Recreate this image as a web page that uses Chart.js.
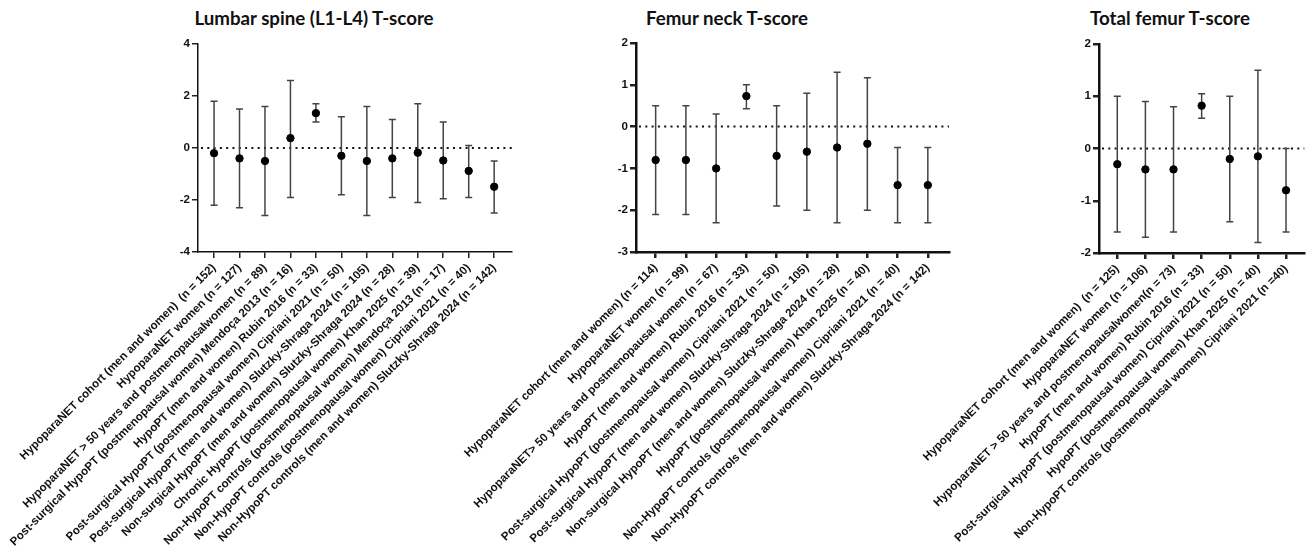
<!DOCTYPE html>
<html><head><meta charset="utf-8">
<script src="https://cdn.jsdelivr.net/npm/chart.js@4.4.1/dist/chart.umd.min.js"></script>
<style>
html,body{margin:0;padding:0;background:#fff;width:1309px;height:549px;overflow:hidden;position:relative;}
canvas{position:absolute;left:0;top:0;}
.t{position:absolute;font-family:Lato,"Open Sans",sans-serif;font-weight:bold;font-size:18.7px;color:#111;transform:translateX(-50%);white-space:nowrap;top:7px;}
</style></head><body>
<div class="t" style="left:314px">Lumbar spine (L1-L4) T-score</div>
<div class="t" style="left:727px">Femur neck T-score</div>
<div class="t" style="left:1170px">Total femur T-score</div>
<canvas id="c1" width="1309" height="549"></canvas>
<canvas id="c2" width="1309" height="549"></canvas>
<canvas id="c3" width="1309" height="549"></canvas>
<script>
const lumbarLabels = [
  "HypoparaNET cohort (men and women)  (n = 152)",
  "HypoparaNET women (n = 127)",
  "HypoparaNET > 50 years and postmenopausalwomen (n = 89)",
  "Post-surgical HypoPT (postmenopausal women) Mendoça 2013 (n = 16)",
  "HypoPT (men and women) Rubin 2016 (n = 33)",
  "Post-surgical HypoPT (postmenopausal women) Cipriani 2021 (n = 50)",
  "Post-surgical HypoPT (men and women) Slutzky-Shraga 2024 (n = 105)",
  "Non-surgical HypoPT (men and women) Slutzky-Shraga 2024 (n = 28)",
  "Chronic HypoPT (postmenopausal women) Khan 2025 (n = 39)",
  "Non-HypoPT controls (postmenopausal women) Mendoça 2013 (n = 17)",
  "Non-HypoPT controls (postmenopausal women) Cipriani 2021 (n = 40)",
  "Non-HypoPT controls (men and women) Slutzky-Shraga 2024 (n = 142)"
];
const lumbarMean = [-0.2, -0.4, -0.5, 0.38, 1.34, -0.3, -0.5, -0.4, -0.18, -0.48, -0.88, -1.49];
const lumbarLow  = [-2.2, -2.3, -2.6, -1.9, 1.0, -1.8, -2.6, -1.9, -2.1, -1.95, -1.9, -2.5];
const lumbarHigh = [1.8, 1.5, 1.6, 2.6, 1.7, 1.2, 1.6, 1.1, 1.7, 1.0, 0.1, -0.5];
const lumbarTicks = [-4, -2, 0, 2, 4];

const neckLabels = [
  "HypoparaNET cohort (men and women) (n = 114)",
  "HypoparaNET women (n = 99)",
  "HypoparaNET> 50 years and postmenopausal women (n = 67)",
  "HypoPT (men and women) Rubin 2016 (n = 33)",
  "Post-surgical HypoPT (postmenopausal women) Cipriani 2021 (n = 50)",
  "Post-surgical HypoPT (men and women) Slutzky-Shraga 2024 (n = 105)",
  "Non-surgical HypoPT (men and women) Slutzky-Shraga 2024 (n = 28)",
  "HypoPT (postmenopausal women) Khan 2025 (n = 40)",
  "Non-HypoPT controls (postmenopausal women) Cipriani 2021 (n = 40)",
  "Non-HypoPT controls (men and women) Slutzky-Shraga 2024 (n = 142)"
];
const neckMean = [-0.8, -0.8, -1.0, 0.73, -0.7, -0.6, -0.5, -0.41, -1.4, -1.4];
const neckLow  = [-2.1, -2.1, -2.3, 0.43, -1.9, -2.0, -2.3, -2.0, -2.3, -2.3];
const neckHigh = [0.5, 0.5, 0.3, 1.0, 0.5, 0.8, 1.3, 1.17, -0.5, -0.5];
const neckTicks = [-3, -2, -1, 0, 1, 2];

const totalLabels = [
  "HypoparaNET cohort (men and women)  (n = 125)",
  "HypoparaNET women (n = 106)",
  "HypoparaNET > 50 years and postmenopausalwomen(n = 73)",
  "HypoPT (men and women) Rubin 2016 (n = 33)",
  "Post-surgical HypoPT (postmenopausal women) Cipriani 2021 (n = 50)",
  "HypoPT (postmenopausal women) Khan 2025 (n = 40)",
  "Non-HypoPT controls (postmenopausal women) Cipriani 2021 (n =40)"
];
const totalMean = [-0.3, -0.4, -0.4, 0.82, -0.2, -0.15, -0.8];
const totalLow  = [-1.6, -1.7, -1.6, 0.58, -1.4, -1.8, -1.6];
const totalHigh = [1.0, 0.9, 0.8, 1.05, 1.0, 1.5, 0.0];
const totalTicks = [-2, -1, 0, 1, 2];

const errPlugin = {
  id: 'errbars',
  beforeDatasetsDraw(chart, args, opts) {
    const ctx = chart.ctx, x = chart.scales.x, y = chart.scales.y, a = chart.chartArea;
    ctx.save();
    ctx.strokeStyle = '#111';
    ctx.lineWidth = 2;
    ctx.setLineDash([2, 4.3]);
    const y0 = y.getPixelForValue(0);
    ctx.beginPath(); ctx.moveTo(a.left + 3, y0); ctx.lineTo(a.right, y0); ctx.stroke();
    ctx.setLineDash([]);
    ctx.strokeStyle = '#444';
    ctx.lineWidth = 1.5;
    opts.low.forEach((lo, i) => {
      const px = x.getPixelForValue(i);
      const pl = y.getPixelForValue(lo), ph = y.getPixelForValue(opts.high[i]);
      ctx.beginPath();
      ctx.moveTo(px, pl); ctx.lineTo(px, ph);
      ctx.moveTo(px - 3.5, pl); ctx.lineTo(px + 3.5, pl);
      ctx.moveTo(px - 3.5, ph); ctx.lineTo(px + 3.5, ph);
      ctx.stroke();
    });
    ctx.restore();
  }
};

function makeChart(id, labels, mean, low, high, yTicks, xMin, xMax, box, axisW) {
  const yAxisW = 30;
  const tickFont = { family: '"Liberation Sans", Arial, sans-serif', weight: 'bold', size: 11.6 };
  new Chart(document.getElementById(id), {
    type: 'scatter',
    data: { datasets: [{
      data: mean.map((v, i) => ({ x: i, y: v })),
      backgroundColor: '#000', borderColor: '#000',
      pointRadius: 3.7, pointHoverRadius: 3.7
    }]},
    options: {
      responsive: false, animation: false,
      layout: { padding: { left: box.left - yAxisW, right: 1309 - box.right, top: box.top, bottom: 0 } },
      plugins: { legend: { display: false }, tooltip: { enabled: false }, errbars: { low, high } },
      scales: {
        x: {
          type: 'linear', min: xMin, max: xMax,
          afterBuildTicks: s => { s.ticks = labels.map((l, i) => ({ value: i })); },
          afterFit: s => { s.height = 549 - box.bottom; },
          grid: { display: true, drawOnChartArea: false, drawTicks: true, tickLength: 6, color: '#222', lineWidth: axisW },
          border: { display: true, color: '#111', width: axisW },
          ticks: {
            autoSkip: false, maxRotation: 45, minRotation: 45, padding: 3, color: '#111',
            font: tickFont,
            callback: v => labels[Math.round(v)]
          }
        },
        y: {
          min: yTicks[0], max: yTicks[yTicks.length - 1],
          afterBuildTicks: s => { s.ticks = yTicks.map(v => ({ value: v })); },
          afterFit: s => { s.width = yAxisW; },
          grid: { display: true, drawOnChartArea: false, drawTicks: true, tickLength: 6, color: '#222', lineWidth: axisW },
          border: { display: true, color: '#111', width: axisW },
          ticks: { padding: 2, color: '#111', font: tickFont }
        }
      }
    },
    plugins: [errPlugin]
  });
}

makeChart('c1', lumbarLabels, lumbarMean, lumbarLow, lumbarHigh, lumbarTicks, -0.63, 11.7,
  { left: 198, right: 512, top: 44, bottom: 252 }, 1.5);
makeChart('c2', neckLabels, neckMean, neckLow, neckHigh, neckTicks, -0.65, 9.7,
  { left: 636, right: 949, top: 43, bottom: 252 }, 2.5);
makeChart('c3', totalLabels, totalMean, totalLow, totalHigh, totalTicks, -0.65, 6.65,
  { left: 1099, right: 1307, top: 44, bottom: 253 }, 2.5);
</script>
</body></html>
